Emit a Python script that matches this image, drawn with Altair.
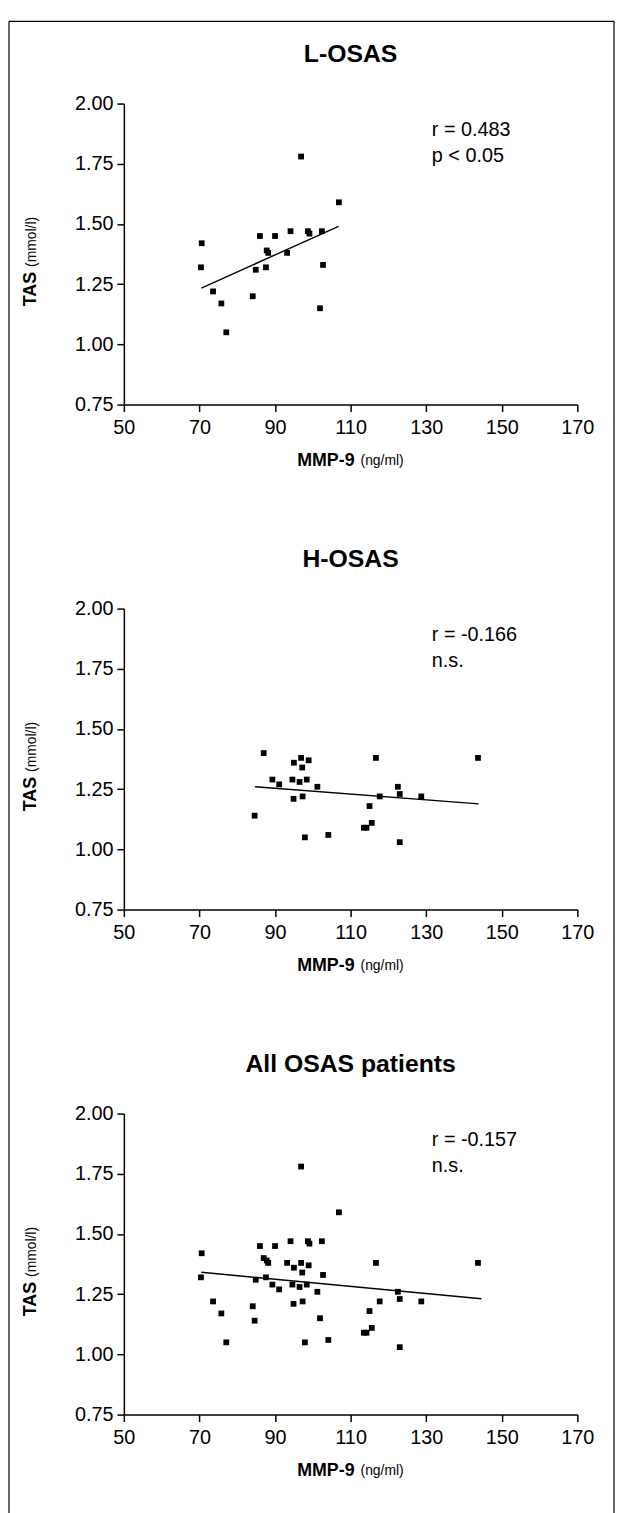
import altair as alt
import pandas as pd

# ---- data ----
# L-OSAS
l_mmp9 = [70.6, 70.4, 73.6, 75.8, 77.1, 84.1, 84.9, 86.0, 87.6, 87.8, 88.2,
          90.0, 93.2, 94.1, 96.9, 98.7, 99.1, 101.9, 102.4, 102.7, 106.9]
l_tas = [1.42, 1.32, 1.22, 1.17, 1.05, 1.20, 1.31, 1.45, 1.32, 1.39, 1.38,
         1.45, 1.38, 1.47, 1.78, 1.47, 1.46, 1.15, 1.47, 1.33, 1.59]
# H-OSAS
h_mmp9 = [87.0, 96.9, 95.0, 98.9, 97.2, 116.7, 143.7, 89.3, 91.1, 94.6, 96.5,
          98.4, 101.2, 122.5, 94.9, 97.3, 117.7, 123.0, 128.7, 115.0, 84.6,
          115.6, 113.5, 114.2, 97.9, 104.1, 123.0]
h_tas = [1.40, 1.38, 1.36, 1.37, 1.34, 1.38, 1.38, 1.29, 1.27, 1.29, 1.28,
         1.29, 1.26, 1.26, 1.21, 1.22, 1.22, 1.23, 1.22, 1.18, 1.14,
         1.11, 1.09, 1.09, 1.05, 1.06, 1.03]
# All OSAS patients (both groups together)
all_mmp9 = l_mmp9 + h_mmp9
all_tas = l_tas + h_tas

# regression line end points
l_fit_x = [70.5, 106.8]
l_fit_y = [1.234, 1.49]
h_fit_x = [84.7, 143.9]
h_fit_y = [1.260, 1.189]
all_fit_x = [70.5, 144.6]
all_fit_y = [1.341, 1.231]

titles = ["L-OSAS", "H-OSAS", "All OSAS patients"]
stat_line1 = ["r = 0.483", "r = -0.166", "r = -0.157"]
stat_line2 = ["p < 0.05", "n.s.", "n.s."]

x_ticks = [50, 70, 90, 110, 130, 150, 170]
y_ticks = [0.75, 1.00, 1.25, 1.50, 1.75, 2.00]

FONT = "Liberation Sans"
W, H = 458, 304
SPACING = 206
one = pd.DataFrame({"a": [0]})


def txt(text, x, y, size, bold=False, align="left", baseline="middle", angle=0):
    kw = dict(font=FONT, fontSize=size, color="black", align=align,
              baseline=baseline, fontWeight="bold" if bold else "normal")
    if angle:
        kw["angle"] = angle
    return alt.Chart(one).mark_text(**kw).encode(
        x=alt.value(x), y=alt.value(y), text=alt.value(text))


def rule(x, y, x2=None, y2=None):
    enc = dict(x=alt.value(x), y=alt.value(y))
    if x2 is not None:
        enc["x2"] = alt.value(x2)
    if y2 is not None:
        enc["y2"] = alt.value(y2)
    return alt.Chart(one).mark_rule(color="black", strokeWidth=1.2).encode(**enc)


def panel(i, xs, ys, fx, fy, frame=False):
    pts = pd.DataFrame({"mmp9": xs, "tas": ys})
    fit = pd.DataFrame({"mmp9": fx, "tas": fy})
    xsc = alt.Scale(domain=[50, 170], nice=False, zero=False)
    ysc = alt.Scale(domain=[0.75, 2.0], nice=False, zero=False)
    common = dict(title=None, grid=False, tickSize=7, tickWidth=1.5,
                  domainWidth=1.5, domainColor="black", tickColor="black",
                  labelFont=FONT, labelFontSize=20, labelColor="black",
                  labelFlush=False, labelOverlap=False)
    xax = alt.Axis(values=x_ticks, format="d", labelPadding=6, **common)
    yax = alt.Axis(values=y_ticks, format=".2f", labelPadding=4, **common)
    points = alt.Chart(pts).mark_square(size=34, color="black", opacity=1).encode(
        x=alt.X("mmp9:Q", scale=xsc, axis=xax),
        y=alt.Y("tas:Q", scale=ysc, axis=yax),
    )
    line = alt.Chart(fit).mark_line(color="black", strokeWidth=1.4).encode(
        x=alt.X("mmp9:Q", scale=xsc),
        y=alt.Y("tas:Q", scale=ysc),
    )
    layers = [
        points, line,
        txt(titles[i], W / 2, -50, 25, bold=True, align="center"),
        txt(stat_line1[i], 311, 27, 20),
        txt(stat_line2[i], 311, 53, 20),
        txt("MMP-9", 233, H + 57, 18, bold=True, align="right"),
        txt("(ng/ml)", 239, H + 57, 14, align="left"),
        txt("TAS", -89, 170, 18, bold=True, align="right",
            baseline="alphabetic", angle=270),
        txt("(mmol/l)", -89, 165, 14, align="left",
            baseline="alphabetic", angle=270),
    ]
    if frame:
        # outer frame of the figure (top, left and right edges; cut at the bottom)
        bottom = 1430
        layers += [
            rule(-116, -83, x2=495),
            rule(-116, -83, y2=bottom),
            rule(495, -83, y2=bottom),
        ]
    return alt.layer(*layers).properties(width=W, height=H)


p1 = panel(0, l_mmp9, l_tas, l_fit_x, l_fit_y, frame=True)
p2 = panel(1, h_mmp9, h_tas, h_fit_x, h_fit_y)
p3 = panel(2, all_mmp9, all_tas, all_fit_x, all_fit_y)

chart = alt.vconcat(p1, p2, p3, spacing=SPACING, bounds="flush").properties(
    padding={"left": 0, "top": 5, "right": 0, "bottom": 0},
    background="white",
).configure_view(stroke=None)

chart.save("out.html", embed_options={"renderer": "svg", "actions": False})
